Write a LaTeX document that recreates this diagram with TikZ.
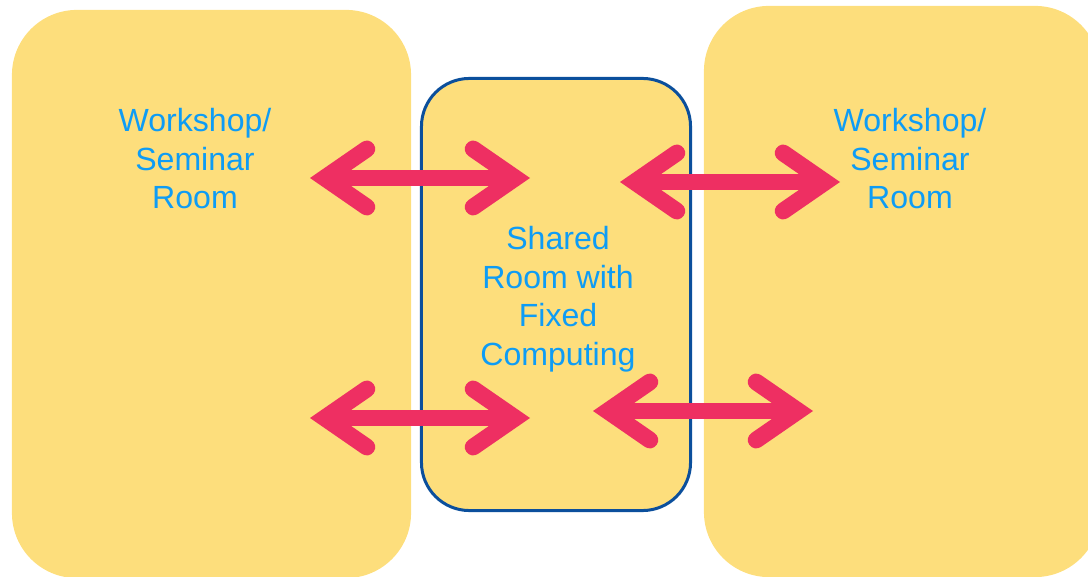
\documentclass[tikz,border=0pt]{standalone}
\usepackage{fontspec}
\setmainfont{Liberation Sans}
\usetikzlibrary{arrows.meta,positioning}
\definecolor{roomyellow}{HTML}{FDDE7C}
\definecolor{roomblue}{HTML}{0B4F9C}
\definecolor{textblue}{HTML}{0E9CF5}
\definecolor{linkpink}{HTML}{EE2F62}

\begin{document}
\begin{tikzpicture}[x=0.025cm, y=-0.025cm,
  room/.style={rectangle, rounded corners=1.625cm, fill=roomyellow, inner sep=0pt},
  shared/.style={rectangle, rounded corners=1.2cm, fill=roomyellow, draw=roomblue, line width=0.075cm, inner sep=0pt},
  lbl/.style={align=center, text=textblue, font=\fontsize{22.8}{27.4}\selectfont},
  >={Straight Barb[length=1.05cm, width=1.45cm, line cap=round, line join=miter]},
  link/.style={draw=linkpink, line width=0.42cm, <->}]
\useasboundingbox (0,0) rectangle (1088,577);
\clip (0,0) rectangle (1088,577);
% rooms
\node[room, minimum width=9.975cm, minimum height=14.2cm] (wsleft) at (211.5,294) {};
\node[room, minimum width=9.9cm, minimum height=14.275cm] (wsright) at (902,291.5) {};
\node[shared, minimum width=6.725cm, minimum height=10.8cm] (computing) at (556,294.5) {};
% labels
\node[lbl] (wsleftlbl) at (195,159) {Workshop/\\Seminar\\Room};
\node[lbl] (wsrightlbl) at (910,159) {Workshop/\\Seminar\\Room};
\node[lbl] (computinglbl) at (558,299) {Shared\\Room with\\Fixed\\Computing};
% arrow ends
\coordinate (tl1) at (310,178);
\coordinate (tl2) at (530,178);
\coordinate (tr1) at (620,182);
\coordinate (tr2) at (840,182);
\coordinate (bl1) at (310,418);
\coordinate (bl2) at (530,418);
\coordinate (br1) at (593,411);
\coordinate (br2) at (813,411);
\draw[link] (tl1) -- (tl2);
\draw[link] (tr1) -- (tr2);
\draw[link] (bl1) -- (bl2);
\draw[link] (br1) -- (br2);
\end{tikzpicture}
\end{document}
